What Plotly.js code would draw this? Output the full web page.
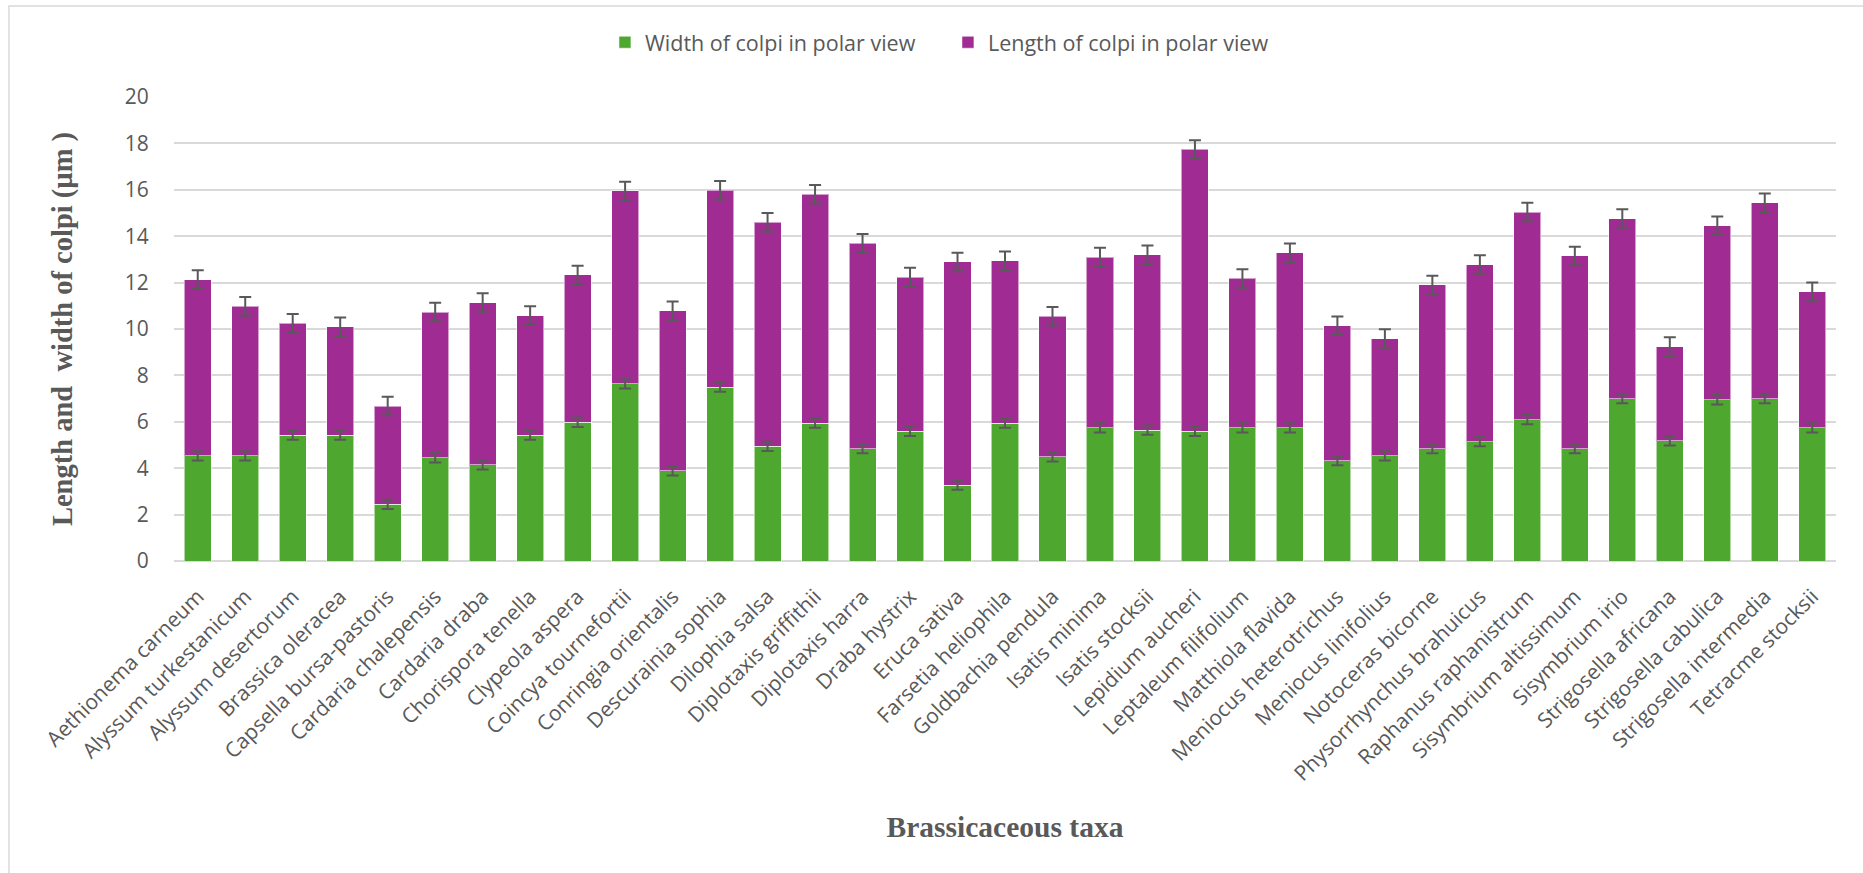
<!DOCTYPE html>
<html>
<head>
<meta charset="utf-8">
<script src="https://cdn.plot.ly/plotly-3.0.1.min.js"></script>
<style>
  html, body { margin: 0; padding: 0; background: #ffffff; }
  #chart { width: 1863px; height: 873px; }
</style>
</head>
<body>
<div id="chart"></div>
<script>
// Brassicaceous taxa along the x axis
const taxa = [
  "Aethionema carneum", "Alyssum turkestanicum", "Alyssum desertorum", "Brassica oleracea",
  "Capsella bursa-pastoris", "Cardaria chalepensis", "Cardaria draba", "Chorispora tenella",
  "Clypeola aspera", "Coincya tournefortii", "Conringia orientalis", "Descurainia sophia",
  "Dilophia salsa", "Diplotaxis griffithii", "Diplotaxis harra", "Draba hystrix",
  "Eruca sativa", "Farsetia heliophila", "Goldbachia pendula", "Isatis minima",
  "Isatis stocksii", "Lepidium aucheri", "Leptaleum filifolium", "Matthiola flavida",
  "Meniocus heterotrichus", "Meniocus linifolius", "Notoceras bicorne", "Physorrhynchus brahuicus",
  "Raphanus raphanistrum", "Sisymbrium altissimum", "Sisymbrium irio", "Strigosella africana",
  "Strigosella cabulica", "Strigosella intermedia", "Tetracme stocksii"
];

// Width of colpi in polar view (µm), lower stacked segment
const widthValues = [
  4.53, 4.53, 5.43, 5.43, 2.44, 4.45, 4.14, 5.43, 5.98, 7.63, 3.89, 7.49,
  4.94, 5.94, 4.84, 5.59, 3.27, 5.94, 4.49, 5.74, 5.64, 5.59, 5.74, 5.74,
  4.33, 4.53, 4.84, 5.15, 6.09, 4.84, 7.00, 5.18, 6.95, 7.00, 5.74
];

// Length of colpi in polar view (µm), upper stacked segment
const lengthValues = [
  7.60, 6.45, 4.82, 4.67, 4.24, 6.28, 7.00, 5.15, 6.35, 8.32, 6.90, 8.49,
  9.66, 9.87, 8.85, 6.65, 9.62, 7.00, 6.06, 7.36, 7.56, 12.15, 6.44, 7.55,
  5.81, 5.06, 7.06, 7.63, 8.95, 8.31, 7.76, 4.06, 7.50, 8.44, 5.86
];

// Error bar half-ranges
const widthErrors = [
  0.2, 0.2, 0.2, 0.2, 0.2, 0.2, 0.2, 0.2, 0.2, 0.2, 0.2, 0.2,
  0.2, 0.2, 0.2, 0.2, 0.2, 0.2, 0.2, 0.2, 0.2, 0.2, 0.2, 0.2,
  0.2, 0.2, 0.2, 0.2, 0.2, 0.2, 0.2, 0.2, 0.2, 0.2, 0.2
];
const lengthErrors = [
  0.4, 0.4, 0.4, 0.4, 0.4, 0.4, 0.4, 0.4, 0.4, 0.4, 0.4, 0.4,
  0.4, 0.4, 0.4, 0.4, 0.4, 0.4, 0.4, 0.4, 0.4, 0.4, 0.4, 0.4,
  0.4, 0.4, 0.4, 0.4, 0.4, 0.4, 0.4, 0.4, 0.4, 0.4, 0.4
];

const yTicks = [0, 2, 4, 6, 8, 10, 12, 14, 16, 18, 20];

const FONT = "'Open Sans', 'Liberation Sans', Arial, sans-serif";
const SERIF = "'Liberation Serif', 'Times New Roman', serif";
const TEXT_GREY = "#595959";
const GREEN = "#4EA72E";
const PURPLE = "#A02B93";

// Top of each stacked segment, where its error bar sits
const widthTops = widthValues.slice();
const lengthTops = widthValues.map((w, i) => w + lengthValues[i]);

const errStyle = { type: "data", visible: true, color: "#595959", thickness: 2, width: 6 };
const barLine = { color: "rgba(255,255,255,0.55)", width: 1 };

const traces = [
  {
    type: "bar",
    name: "Width of colpi in polar view",
    x: taxa,
    y: widthValues,
    marker: { color: GREEN, line: barLine },
    hoverinfo: "x+y+name"
  },
  {
    type: "bar",
    name: "Length of colpi in polar view",
    x: taxa,
    y: lengthValues,
    marker: { color: PURPLE, line: barLine },
    hoverinfo: "x+y+name"
  },
  // Error bars drawn above both bar series
  {
    type: "scatter",
    mode: "markers",
    x: taxa,
    y: widthTops,
    marker: { size: 1, opacity: 0 },
    error_y: Object.assign({ array: widthErrors }, errStyle),
    showlegend: false,
    hoverinfo: "skip"
  },
  {
    type: "scatter",
    mode: "markers",
    x: taxa,
    y: lengthTops,
    marker: { size: 1, opacity: 0 },
    error_y: Object.assign({ array: lengthErrors }, errStyle),
    showlegend: false,
    hoverinfo: "skip"
  }
];

const layout = {
  width: 1863,
  height: 873,
  margin: { l: 174, r: 27, t: 97, b: 312, pad: 0 },
  paper_bgcolor: "#ffffff",
  plot_bgcolor: "#ffffff",
  barmode: "stack",
  bargap: 0.43,
  font: { family: FONT, size: 21, color: TEXT_GREY },
  showlegend: true,
  legend: {
    orientation: "h",
    x: 0.2593,
    xanchor: "left",
    y: 1.118,
    yanchor: "middle",
    entrywidth: 298,
    entrywidthmode: "pixels",
    font: { family: FONT, size: 21.5, color: TEXT_GREY },
    traceorder: "normal",
    itemclick: false,
    itemdoubleclick: false
  },
  xaxis: {
    type: "category",
    range: [-0.5, taxa.length - 0.5],
    tickangle: -45,
    tickfont: { family: FONT, size: 21, color: TEXT_GREY },
    ticks: "outside",
    ticklen: 14,
    tickcolor: "rgba(0,0,0,0)",
    showline: false,
    showgrid: false,
    zeroline: false,
    automargin: false,
    title: {
      text: "Brassicaceous taxa",
      font: { family: SERIF, size: 29.5, color: TEXT_GREY, weight: "bold" },
      standoff: 30
    }
  },
  yaxis: {
    range: [0, 20],
    tickvals: yTicks,
    ticktext: yTicks.map(String),
    tickfont: { family: FONT, size: 21, color: TEXT_GREY },
    ticks: "outside",
    ticklen: 20,
    tickcolor: "rgba(0,0,0,0)",
    showgrid: true,
    gridcolor: "#d9d9d9",
    gridwidth: 1.5,
    zeroline: true,
    zerolinecolor: "#d9d9d9",
    zerolinewidth: 2,
    showline: false,
    automargin: false,
    title: {
      text: "Length and  width of colpi (µm )",
      font: { family: SERIF, size: 28.5, color: TEXT_GREY, weight: "bold" },
      standoff: 43
    }
  },
  shapes: [
    {
      type: "rect",
      xref: "paper", yref: "paper",
      x0: -0.0993, x1: 1.05, y0: -0.9, y1: 1.196,
      line: { color: "#d9d9d9", width: 1.5 },
      fillcolor: "rgba(0,0,0,0)",
      layer: "below"
    }
  ]
};

Plotly.newPlot("chart", traces, layout, { displayModeBar: false, responsive: false });
</script>
</body>
</html>
